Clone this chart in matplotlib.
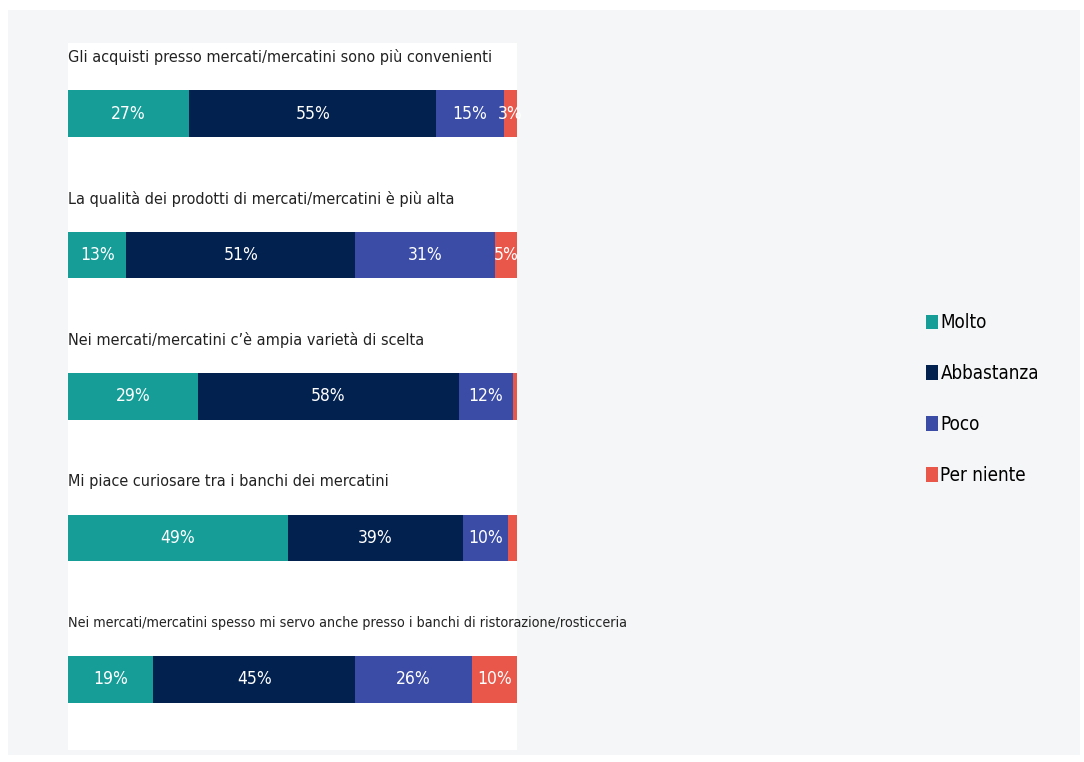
import numpy as np
import matplotlib.pyplot as plt
from matplotlib.patches import Rectangle, Patch

# risposte per affermazione (percentuali)
affermazioni = [
    "Gli acquisti presso mercati/mercatini sono più convenienti",
    "La qualità dei prodotti di mercati/mercatini è più alta",
    "Nei mercati/mercatini c’è ampia varietà di scelta",
    "Mi piace curiosare tra i banchi dei mercatini",
    "Nei mercati/mercatini spesso mi servo anche presso i banchi di ristorazione/rosticceria",
]
molto = [27, 13, 29, 49, 19]
abbastanza = [55, 51, 58, 39, 45]
poco = [15, 31, 12, 10, 26]
per_niente = [3, 5, 1, 2, 10]

categorie = ["Molto", "Abbastanza", "Poco", "Per niente"]
colori = ["#169d98", "#03214f", "#3a4ca6", "#e8574a"]

plt.rcParams['font.family'] = ['DejaVu Sans']
plt.rcParams['font.stretch'] = 'condensed'

W, H = 1084, 762
fig = plt.figure(figsize=(W / 100, H / 100), dpi=100)
fig.patch.set_facecolor('white')
# pannello grigio chiaro di sfondo
fig.patches.append(Rectangle((8 / W, 1 - 755 / H), (1080 - 8) / W, (755 - 10) / H,
                             transform=fig.transFigure, facecolor='#f5f6f8',
                             edgecolor='none', zorder=-1))

ax = fig.add_axes([68 / W, 1 - 750 / H, (517 - 68) / W, (750 - 43) / H])
ax.set_zorder(1)
ax.set_facecolor('white')

serie = [molto, abbastanza, poco, per_niente]
y = np.arange(len(affermazioni))
left = np.zeros(len(affermazioni))
for vals, col in zip(serie, colori):
    vals = np.array(vals)
    ax.barh(y, vals, left=left, height=0.33, color=col, edgecolor='none')
    for yi, l, v in zip(y, left, vals):
        if v >= 3:
            ax.text(l + v / 2, yi, f"{v}%", ha='center', va='center',
                    color='white', fontsize=12.5)
    left += vals

for yi, t in zip(y, affermazioni):
    fs = 10.3 if len(t) > 70 else 11.6
    ax.text(0, yi - 0.4, t, ha='left', va='center', fontsize=fs, color='#222222')

ax.set_xlim(0, 100)
ax.set_ylim(4.5, -0.5)
for s in ax.spines.values():
    s.set_visible(False)
ax.set_xticks([])
ax.set_yticks([])

handles = [Patch(facecolor=c, edgecolor='none') for c in colori]
fig.legend(handles, categorie, loc='upper left', bbox_to_anchor=(918 / W, 1 - 306 / H),
           frameon=False, fontsize=13.5, handlelength=0.65, handleheight=0.85,
           handletextpad=0.15, labelspacing=1.7, borderaxespad=0)

fig.savefig('out.png', dpi=100)
